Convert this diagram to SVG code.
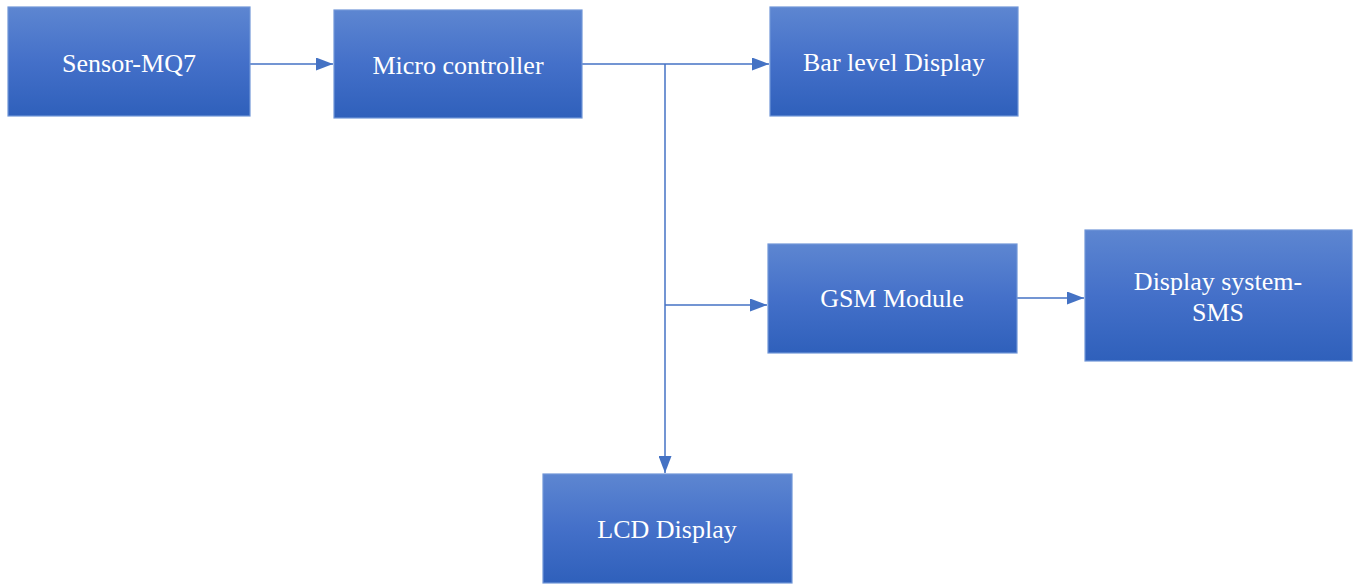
<svg xmlns="http://www.w3.org/2000/svg" width="1353" height="584" viewBox="0 0 1353 584">
<defs>
<linearGradient id="g" x1="0" y1="0" x2="0" y2="1">
<stop offset="0" stop-color="#5d86d1"/>
<stop offset="0.5" stop-color="#4470c9"/>
<stop offset="1" stop-color="#2f60bb"/>
</linearGradient>
<marker id="arr" markerWidth="17" markerHeight="13" refX="17" refY="6.5" orient="auto" markerUnits="userSpaceOnUse">
<path d="M0,0 L17,6.5 L0,13 Z" fill="#4472c4"/>
</marker>
</defs>
<style>
.box{fill:url(#g);stroke:#7096d8;stroke-width:1.2}
.t{font-size:26px;fill:#ffffff;text-anchor:middle}
.c{stroke:#4472c4;stroke-width:1.5;fill:none}
</style>
<g id="connectors">
<line class="c" x1="250" y1="64" x2="333" y2="64" marker-end="url(#arr)"/>
<line class="c" x1="582" y1="64" x2="769" y2="64" marker-end="url(#arr)"/>
<line class="c" x1="665" y1="64" x2="665" y2="473" marker-end="url(#arr)"/>
<line class="c" x1="665" y1="305" x2="767" y2="305" marker-end="url(#arr)"/>
<line class="c" x1="1017" y1="298" x2="1084" y2="298" marker-end="url(#arr)"/>
</g>
<g font-family="'Liberation Serif', 'Times New Roman', 'DejaVu Serif', serif">
<g id="sensor">
<rect class="box" x="8" y="7" width="242" height="109"/>
<text class="t" x="129" y="72">Sensor-MQ7</text>
</g>
<g id="micro">
<rect class="box" x="334" y="10" width="248" height="108"/>
<text class="t" x="458" y="74">Micro controller</text>
</g>
<g id="bar">
<rect class="box" x="770" y="7" width="248" height="109"/>
<text class="t" x="894" y="71">Bar level Display</text>
</g>
<g id="gsm">
<rect class="box" x="768" y="244" width="249" height="109"/>
<text class="t" x="892" y="307">GSM Module</text>
</g>
<g id="sms">
<rect class="box" x="1085" y="230" width="267" height="131"/>
<text class="t" x="1218" y="290">Display system-</text>
<text class="t" x="1218" y="321">SMS</text>
</g>
<g id="lcd">
<rect class="box" x="543" y="474" width="249" height="109"/>
<text class="t" x="667" y="538">LCD Display</text>
</g>
</g>
</svg>
